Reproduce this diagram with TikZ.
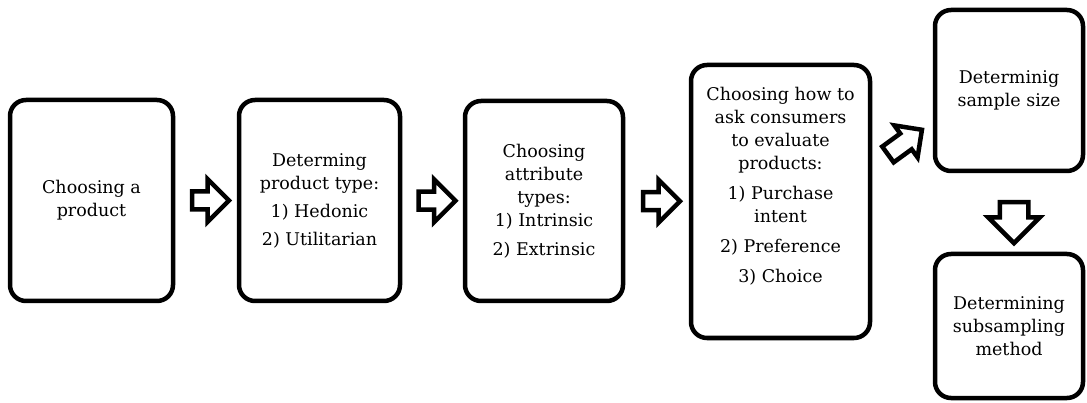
\documentclass[tikz,border=0pt]{standalone}
\usepackage{fontspec}
\setmainfont{DejaVu Serif}
\usetikzlibrary{shapes.arrows,calc}
\begin{document}
\begin{tikzpicture}[x=1pt,y=-1pt,
  stepbox/.style={draw=black,line width=4.5pt,rounded corners=16pt,align=center,
    inner sep=0pt,font=\fontsize{17.5}{23}\selectfont},
  blockarrow/.style={single arrow,draw=black,line width=4.5pt,inner xsep=0pt,
    single arrow head extend=#1},
]
\useasboundingbox (0,0) rectangle (1087,403);
\node[stepbox,minimum width=163pt,minimum height=201pt] (b1) at (91.5,200.5)
  {Choosing a\\product};
\node[stepbox,minimum width=161pt,minimum height=201pt] (b2) at (319.5,200.5)
  {Determing\\product type:\\[5pt]1) Hedonic\\[5pt]2) Utilitarian};
\node[stepbox,minimum width=158pt,minimum height=200pt] (b3) at (544,201)
  {Choosing\\attribute\\types:\\1) Intrinsic\\[6pt]2) Extrinsic};
\node[stepbox,minimum width=179pt,minimum height=273pt] (b4) at (780.5,201.5)
  {Choosing how to\\ask consumers\\to evaluate\\products:\\[7pt]1) Purchase\\intent\\[7pt]2) Preference\\[7pt]3) Choice\\[10pt]\mbox{}};
\node[stepbox,minimum width=148pt,minimum height=161pt] (b5) at (1009,90.5)
  {Determinig\\sample size};
\node[stepbox,minimum width=148pt,minimum height=144pt] (b6) at (1009,326)
  {Determining\\subsampling\\method};
\node[blockarrow=12.5pt,inner ysep=6.75pt,minimum height=37pt] (a1)
  at ($(b1.east)!0.5!(b2.west)$) {};
\node[blockarrow=12.5pt,inner ysep=6.75pt,minimum height=37pt] (a2)
  at ($(b2.east)!0.5!(b3.west)$) {};
\node[blockarrow=12.5pt,inner ysep=6.75pt,minimum height=37pt] (a3)
  at ($(b3.east)!0.5!(b4.west)$) {};
\node[blockarrow=10pt,inner ysep=7.5pt,minimum height=42pt,rotate=36] (a4)
  at (901,145) {};
\node[blockarrow=11.5pt,inner ysep=12pt,minimum height=41pt,rotate=-90] (a5)
  at ($(b5.south)!0.5!(b6.north)+(5,3)$) {};
\end{tikzpicture}
\end{document}
